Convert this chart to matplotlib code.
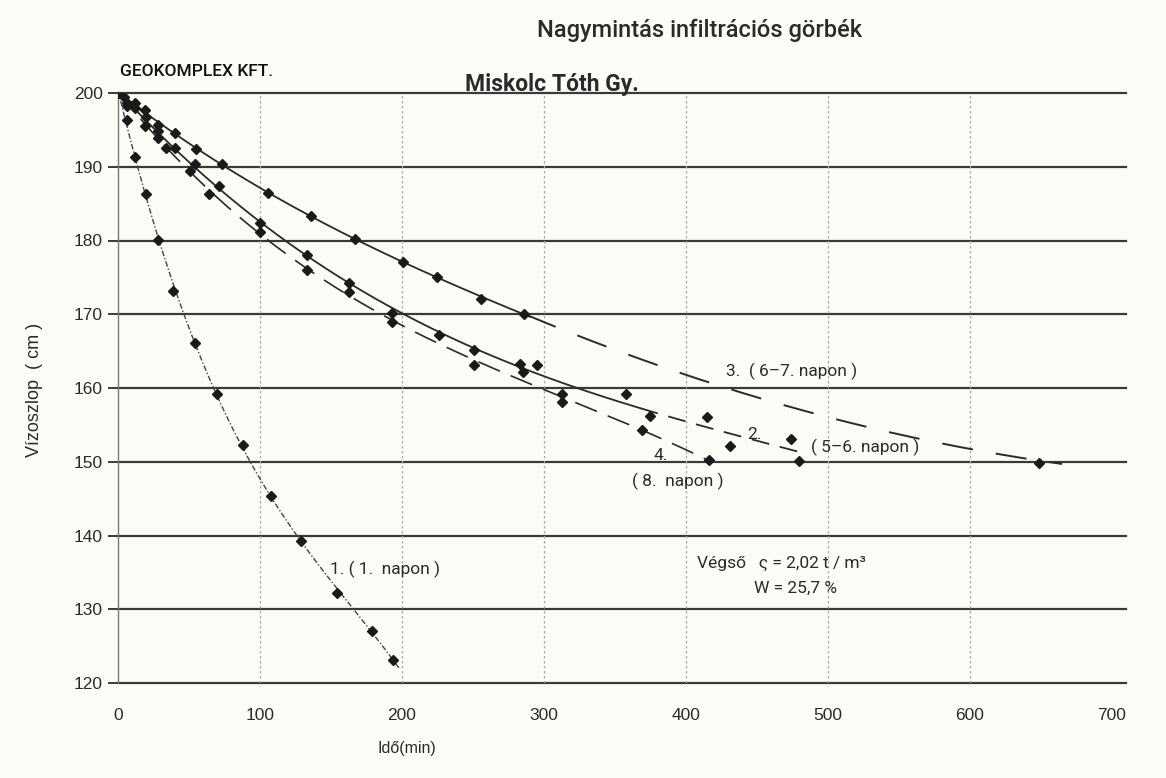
import numpy as np
import matplotlib
matplotlib.use("Agg")
import matplotlib.pyplot as plt

# ---------------- data ----------------
t1 = [0, 6, 12, 20, 28, 39, 54, 70, 88, 108, 129, 154, 179, 194]
y1 = [200, 196.4, 191.3, 186.3, 180.1, 173.1, 166.1, 159.2, 152.3, 145.3, 139.2, 132.2, 127.1, 123.1]

t2 = [0, 6, 20, 28, 40, 54, 71, 100, 133, 163, 193, 226, 251, 283, 295, 313, 358, 375, 415, 431, 474, 480]
y2 = [200, 198.2, 196.7, 194.8, 192.6, 190.4, 187.4, 182.4, 178.1, 174.2, 170.2, 167.2, 165.1, 163.2,
      163.1, 159.2, 159.2, 156.2, 156.1, 152.2, 153.1, 150.1]

t3 = [0, 4, 12, 19, 28, 40, 55, 73, 106, 136, 167, 201, 225, 256, 286, 649]
y3 = [200, 199.4, 198.6, 197.7, 195.6, 194.6, 192.4, 190.4, 186.4, 183.3, 180.2, 177.1, 175.1, 172.1, 170.1, 149.8]

t4 = [0, 6, 12, 19, 28, 34, 51, 64, 100, 133, 163, 193, 251, 285, 313, 369, 416]
y4 = [200, 198.6, 198.0, 195.5, 193.9, 192.6, 189.4, 186.3, 181.2, 176.0, 173.0, 169.0, 163.1, 162.2,
      158.1, 154.3, 150.2]

# dashed extrapolated part of curve 3
tail3_t = [286, 318, 354, 389, 505, 535, 576, 621, 649]
tail3_y = [170.1, 167.5, 165.0, 162.4, 155.7, 154.3, 152.8, 151.4, 149.8]

x_ticks = [0, 100, 200, 300, 400, 500, 600, 700]
y_ticks = [120, 130, 140, 150, 160, 170, 180, 190, 200]

# ---------------- style ----------------
plt.rcParams['font.family'] = ['Roboto', 'DejaVu Sans']

ink = '#2a2a2a'
bg = '#fcfcf7'

fig = plt.figure(figsize=(11.66, 7.78), dpi=100, facecolor=bg)
ax = fig.add_axes([118 / 1166, 1 - 683 / 778, 1008 / 1166, 590 / 778])
ax.set_facecolor(bg)
ax.set_xlim(0, 710)
ax.set_ylim(120, 200)

# grid
for yv in y_ticks:
    ax.axhline(yv, color='#3a3a3a', lw=1.6, zorder=1, clip_on=False)
for xv in x_ticks[1:-1]:
    ax.axvline(xv, color='#a8a8a8', lw=0.9, ls=(0, (2, 2)), zorder=1)

for s in ['top', 'right', 'bottom']:
    ax.spines[s].set_visible(False)
ax.spines['left'].set_color('#777777')
ax.spines['left'].set_linewidth(1.0)

ax.set_xticks(x_ticks)
ax.set_yticks(y_ticks)
ax.tick_params(axis='y', length=7, width=1.4, color='#3a3a3a', pad=4, labelsize=12.5, labelcolor=ink)
ax.tick_params(axis='x', length=0, pad=18, labelsize=12.5, labelcolor=ink)
for lab in ax.get_xticklabels() + ax.get_yticklabels():
    lab.set_family(['Liberation Sans', 'DejaVu Sans'])

mk = dict(marker='D', ms=5, ls='none', color='#1a1a1a', zorder=3)

# series 1 (1. napon)
c1 = np.polyfit(t1, y1, 3)
tt = np.linspace(0, 198, 300)
ax.plot(tt, np.polyval(c1, tt), color='#444444', lw=1.0, ls=(0, (4, 1.5, 1, 1.5)), zorder=2)
ax.plot(t1, y1, **mk)

# series 2 (5-6. napon)
c2 = np.polyfit(t2, y2, 3)
tt = np.linspace(0, 368, 300)
ax.plot(tt, np.polyval(c2, tt), color=ink, lw=1.3, zorder=2)
tt = np.linspace(368, 482, 100)
ax.plot(tt, np.polyval(c2, tt), color=ink, lw=1.3, ls=(0, (10, 6)), zorder=2)
ax.plot(t2, y2, **mk)

# series 3 (6-7. napon)
t3a = [t for t in t3 if t <= 290]
y3a = [y for t, y in zip(t3, y3) if t <= 290]
c3 = np.polyfit(t3a, y3a, 3)
tt = np.linspace(0, 290, 300)
ax.plot(tt, np.polyval(c3, tt), color=ink, lw=1.3, zorder=2)
c3t = np.polyfit(tail3_t, tail3_y, 2)
tt = np.linspace(288, 665, 300)
ax.plot(tt, np.polyval(c3t, tt), color=ink, lw=1.4, ls=(0, (16, 12)), zorder=2)
ax.plot(t3, y3, **mk)

# series 4 (8. napon)
c4 = np.polyfit(t4, y4, 3)
tt = np.linspace(0, 418, 300)
ax.plot(tt, np.polyval(c4, tt), color=ink, lw=1.2, ls=(0, (14, 7)), zorder=2)
ax.plot(t4, y4, **mk)

# annotations
tk = dict(color=ink, fontsize=12.5)
ax.text(428, 162.2, '3.  ( 6–7. napon )', va='center', ha='left', **tk)
ax.text(443, 153.7, '2.', va='center', ha='left', **tk)
ax.text(488, 151.9, '( 5–6. napon )', va='center', ha='left', **tk)
ax.text(377, 150.8, '4.', va='center', ha='left', **tk)
ax.text(362, 147.4, '( 8.  napon )', va='center', ha='left', **tk)
ax.text(149, 135.4, '1. ( 1.  napon )', va='center', ha='left', **tk)
ax.text(408, 136.2, 'Végső   ς = 2,02 t / m³', va='center', ha='left', **tk)
ax.text(448, 132.8, 'W = 25,7 %', va='center', ha='left', **tk)

ax.set_ylabel('Vízoszlop  ( cm )', fontsize=13, color=ink,
              family=['Liberation Sans', 'DejaVu Sans'])
ax.set_xlabel('Idő(min)', fontsize=11.5, color=ink, family=['Liberation Sans', 'DejaVu Sans'])
ax.xaxis.set_label_coords((407 - 118) / 1008, -0.098)
ax.yaxis.set_label_coords(-0.074, (683 - 390) / 590)

fig.text(700 / 1166, 1 - 30 / 778, 'Nagymintás infiltrációs görbék', ha='center', va='center',
         fontsize=17, fontweight='medium', color=ink)
fig.text(120 / 1166, 1 - 72 / 778, 'GEOKOMPLEX KFT.', ha='left', va='center', fontsize=12.5,
         fontweight='medium', color='#111111')
fig.text(552 / 1166, 1 - 85 / 778, 'Miskolc Tóth Gy.', ha='center', va='center', fontsize=16.5,
         fontweight='bold', color=ink)

fig.savefig('out.png', dpi=100, facecolor=bg)
